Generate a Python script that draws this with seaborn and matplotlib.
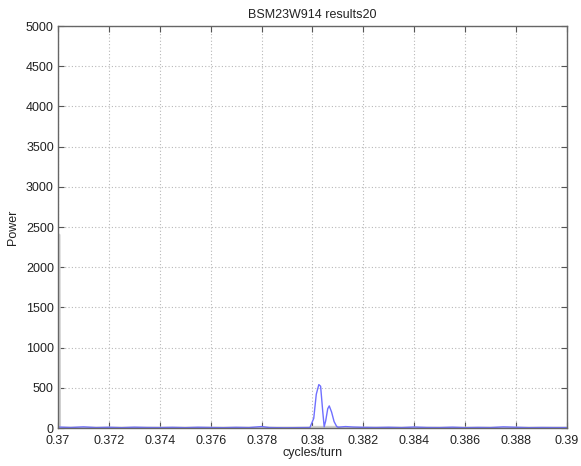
import matplotlib
matplotlib.use("Agg")
import matplotlib.pyplot as plt
import seaborn as sns
import pandas as pd

# Power spectrum around the tune line (cycles/turn)
freq_main = [0.3700, 0.3705, 0.3710, 0.3715, 0.3720, 0.3725, 0.3730, 0.3735, 0.3740,
             0.3745, 0.3750, 0.3755, 0.3760, 0.3765, 0.3770, 0.3775, 0.3780, 0.3783,
             0.3786, 0.3790, 0.3795, 0.3799, 0.38005, 0.38015, 0.38025, 0.38032,
             0.38040, 0.38046, 0.38052, 0.38060, 0.38066, 0.38075, 0.38085, 0.38095,
             0.3810, 0.3813, 0.3816, 0.3820, 0.3825, 0.3830, 0.3835, 0.3840, 0.3845,
             0.3850, 0.3855, 0.3860, 0.3865, 0.3870, 0.3875, 0.3880, 0.3885, 0.3890,
             0.3895, 0.3900]
power_main = [12, 6, 14, 5, 9, 4, 10, 6, 5, 8, 4, 9, 6, 4, 8, 5, 18, 6,
              4, 3, 5, 6, 120, 420, 540, 520, 220, 15, 90, 240, 275, 200, 80, 20,
              10, 18, 12, 8, 6, 9, 5, 12, 6, 5, 10, 4, 7, 5, 14, 9, 4, 6, 5, 5]

freq_ref = [0.37004, 0.37006, 0.3799, 0.3800, 0.3810, 0.3811, 0.3900]
power_ref = [2400, 0, 0, 8, 8, 0, 0]

main_df = pd.DataFrame({"f": freq_main, "p": power_main})
ref_df = pd.DataFrame({"f": freq_ref, "p": power_ref})

sns.set_style("white")
plt.rcParams["font.family"] = ["Liberation Sans", "DejaVu Sans"]

fig = plt.figure(figsize=(5.81, 4.66), dpi=100)
ax = fig.add_axes([0.0998, 0.0815, 0.876, 0.8625])

sns.lineplot(data=ref_df, x="f", y="p", ax=ax, color="#cfcfcf", linewidth=2.2,
             estimator=None, sort=False)
sns.lineplot(data=main_df, x="f", y="p", ax=ax, color="#6f6fff", linewidth=1.0,
             estimator=None, sort=False)

ax.set_xlim(0.37, 0.39)
ax.set_ylim(0, 5000)
xt = [0.37, 0.372, 0.374, 0.376, 0.378, 0.38, 0.382, 0.384, 0.386, 0.388, 0.39]
ax.set_xticks(xt)
ax.set_xticklabels(["0.37", "0.372", "0.374", "0.376", "0.378", "0.38", "0.382",
                    "0.384", "0.386", "0.388", "0.39"])
ax.set_yticks(range(0, 5001, 500))
ax.grid(True, color="#b8b8b8", linestyle=(0, (1, 2)), linewidth=0.8)
ax.tick_params(axis="both", direction="in", length=4, width=0.8, color="#555555",
               labelsize=9, labelcolor="#222222", top=True, right=True,
               bottom=True, left=True)
ax.tick_params(axis="x", pad=5)
ax.tick_params(axis="y", pad=3)
for s in ax.spines.values():
    s.set_color("#666666")
    s.set_linewidth(1.0)

ax.set_title("BSM23W914 results20", fontsize=9, color="#222222", pad=6)
ax.set_xlabel("cycles/turn", fontsize=9, color="#222222", labelpad=0)
ax.set_ylabel("Power", fontsize=9, color="#222222", labelpad=5)

fig.savefig("out.png", dpi=100)
